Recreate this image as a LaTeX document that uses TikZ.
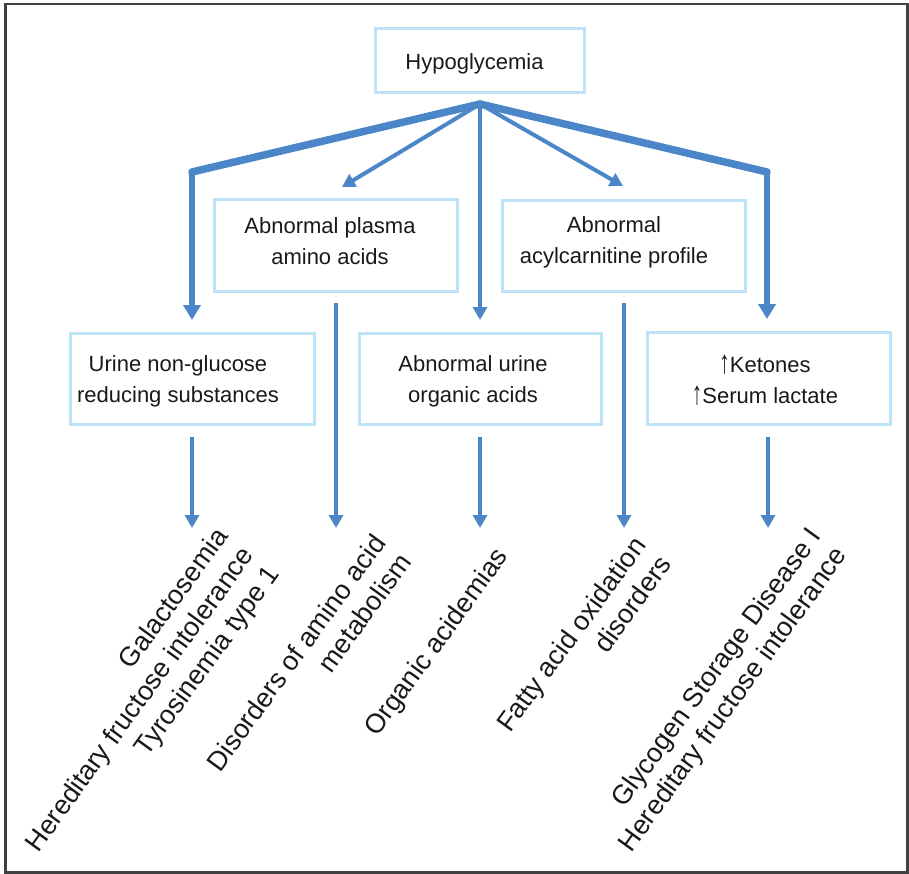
\documentclass[tikz,border=0pt]{standalone}
\usepackage{fontspec}
\setmainfont{Liberation Sans}
\usetikzlibrary{arrows.meta}
\definecolor{arrblue}{RGB}{74,134,200}
\definecolor{boxblue}{RGB}{190,226,246}
\definecolor{txtc}{RGB}{25,25,25}
\newcommand{\upar}{\raisebox{-1.2pt}{\scalebox{0.95}[1.5]{↑}}}
\begin{document}
\begin{tikzpicture}[x=1pt,y=-1pt,
  box/.style={draw=boxblue,line width=3pt,inner sep=0pt},
  lab/.style={font=\fontsize{22}{31}\selectfont,text=txtc,align=center,inner sep=0pt},
  dx/.style={font=\fontsize{27}{32}\selectfont,text=txtc,align=right,inner sep=0pt,rotate=54,anchor=north east},
  arr/.style={draw=arrblue,line width=4pt,-{Triangle[width=14pt,length=13pt]}},
  bigarr/.style={draw=arrblue,line width=5.5pt,-{Triangle[width=17pt,length=15pt]}},
  thickln/.style={draw=arrblue,line width=7.5pt,line cap=round}]
\useasboundingbox (0,0) rectangle (909,874);
\draw[line width=2.5pt,draw=black!75] (5.3,4) rectangle (907.5,872.5);

% boxes
\node[box,minimum width=209pt,minimum height=64pt] (hypo) at (480,60.5) {};
\node[box,minimum width=243pt,minimum height=92pt] (plasma) at (336,245.5) {};
\node[box,minimum width=243pt,minimum height=91pt] (acyl) at (624,246) {};
\node[box,minimum width=244pt,minimum height=91pt] (urine) at (192.5,379) {};
\node[box,minimum width=242pt,minimum height=91pt] (organic) at (480.5,379) {};
\node[box,minimum width=243pt,minimum height=92pt] (ket) at (769,378.5) {};

% box texts
\node[lab] (thypo) at (474.5,64) {Hypoglycemia};
\node[lab] (tplasma) at (330,241.3) {Abnormal plasma\\amino acids};
\node[lab] (tacyl) at (614,242.6) {Abnormal\\acylcarnitine profile};
\node[lab] (turine) at (178,381.7) {Urine non-glucose\\reducing substances};
\node[lab] (torganic) at (473,381.7) {Abnormal urine\\organic acids};
\node[lab] (tket) at (765,380) {\upar Ketones\\\upar Serum lactate};

% top connectors
\coordinate (hub) at (480,104);
\coordinate (cornerL) at (192,172);
\coordinate (cornerR) at (767,172);
\draw[thickln] (hub) -- (cornerL);
\draw[thickln] (hub) -- (cornerR);
\draw[bigarr,shorten >=12pt] (cornerL) -- (cornerL |- urine.north);
\draw[bigarr,shorten >=12pt] (cornerR) -- (cornerR |- ket.north);
\draw[arr,shorten >=12pt] (hub) -- (hub |- organic.north);
\draw[arr] (hub) -- ([xshift=6pt,yshift=11pt]plasma.north);
\draw[arr] (hub) -- ([xshift=-1pt,yshift=13pt]acyl.north);

% result labels
\node[dx] (r1) at (213,525) {Galactosemia\\Hereditary fructose intolerance\\Tyrosinemia type 1};
\node[dx] (r2) at (371,532) {Disorders of amino acid\\metabolism};
\node[dx] (r3) at (493,545) {Organic acidemias};
\node[dx] (r4) at (631,534) {Fatty acid oxidation\\disorders};
\node[dx] (r5) at (806,525) {Glycogen Storage Disease I\\Hereditary fructose intolerance};

% bottom connectors
\coordinate (e1) at (192,528);
\coordinate (e2) at (336,528);
\coordinate (e3) at (480,528);
\coordinate (e4) at (624,528);
\coordinate (e5) at (768,528);
\draw[arr,shorten <=11pt] (urine.south -| e1) -- (e1);
\draw[arr,shorten <=10pt] (plasma.south -| e2) -- (e2);
\draw[arr,shorten <=11pt] (organic.south -| e3) -- (e3);
\draw[arr,shorten <=10pt] (acyl.south -| e4) -- (e4);
\draw[arr,shorten <=11pt] (ket.south -| e5) -- (e5);
\end{tikzpicture}
\end{document}
